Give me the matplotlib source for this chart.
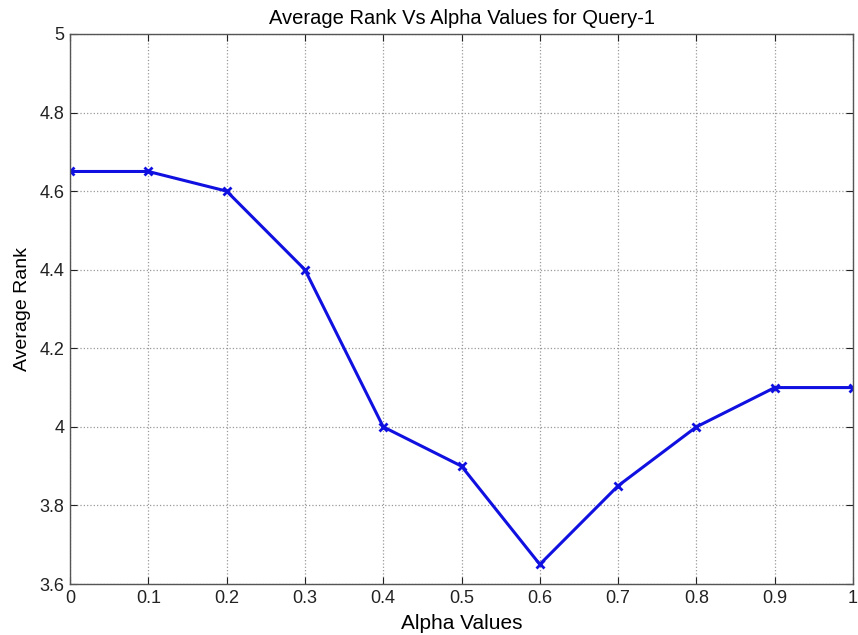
import matplotlib
matplotlib.use('Agg')
import matplotlib.pyplot as plt

# Datos
alpha = [0, 0.1, 0.2, 0.3, 0.4, 0.5, 0.6, 0.7, 0.8, 0.9, 1.0]
avg_rank = [4.65, 4.65, 4.60, 4.40, 4.00, 3.90, 3.65, 3.85, 4.00, 4.10, 4.10]
x_ticks = [0, 0.1, 0.2, 0.3, 0.4, 0.5, 0.6, 0.7, 0.8, 0.9, 1]
x_labels = ['0', '0.1', '0.2', '0.3', '0.4', '0.5', '0.6', '0.7', '0.8', '0.9', '1']
y_ticks = [3.6, 3.8, 4.0, 4.2, 4.4, 4.6, 4.8, 5.0]
y_labels = ['3.6', '3.8', '4', '4.2', '4.4', '4.6', '4.8', '5']

plt.rcParams['font.family'] = ['Liberation Sans', 'DejaVu Sans']

fig = plt.figure(figsize=(8.58, 6.35), dpi=100)
ax = fig.add_axes([0.0816, 0.0803, 0.9126, 0.8662])

ax.plot(alpha, avg_rank, color='#1010e0', linewidth=2.2, marker='x',
        markersize=6, markeredgewidth=2)

ax.set_xlim(0, 1)
ax.set_ylim(3.6, 5)
ax.set_xticks(x_ticks)
ax.set_xticklabels(x_labels)
ax.set_yticks(y_ticks)
ax.set_yticklabels(y_labels)
ax.tick_params(direction='in', length=5, labelsize=13, pad=4,
               top=True, right=True, colors='#222222')
ax.grid(True, linestyle=':', color='#999999', linewidth=0.9)
for s in ax.spines.values():
    s.set_color('#555555')
    s.set_linewidth(1.0)

ax.set_xlabel('Alpha Values', fontsize=15, labelpad=5)
ax.set_ylabel('Average Rank', fontsize=14, labelpad=6)
ax.set_title('Average Rank Vs Alpha Values for Query-1', fontsize=14.5, pad=7)

fig.savefig('out.png', dpi=100)
